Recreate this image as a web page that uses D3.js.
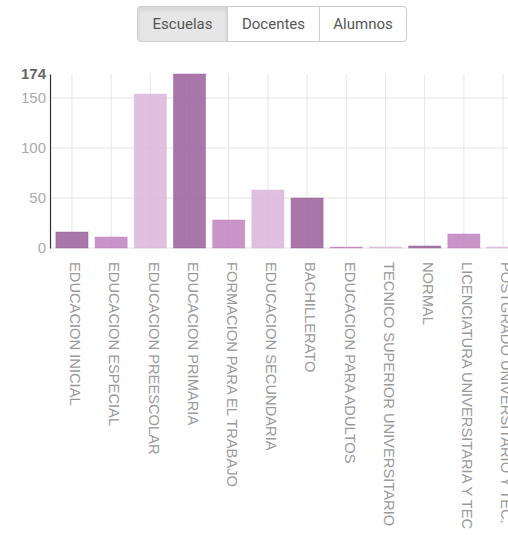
<!DOCTYPE html>
<html>
<head>
<meta charset="utf-8">
<script src="https://cdn.jsdelivr.net/npm/d3@7"></script>
<style>
  body { margin: 0; background: #fff; overflow: hidden; }
  #wrap { position: relative; width: 508px; height: 535px; }
  .btn-group { position: absolute; left: 137px; top: 6px; display: flex; }
  .btn-group button {
    font-family: Roboto, sans-serif; font-size: 15px; color: #555;
    background: #fff; border: 1px solid #ccc; height: 36px; padding: 0;
    margin-left: -1px; cursor: pointer;
  }
  .btn-group button:first-child { border-radius: 4px 0 0 4px; margin-left: 0; }
  .btn-group button:last-child { border-radius: 0 4px 4px 0; }
  .btn-group button.active { background: #e6e6e6; box-shadow: inset 0 3px 5px rgba(0,0,0,0.08); }
  svg { position: absolute; left: 0; top: 0; }
</style>
</head>
<body>
<div id="wrap">
  <div class="btn-group" id="buttons"></div>
</div>
<script>
// data
const modes = ["Escuelas", "Docentes", "Alumnos"]
const modeWidths = [91, 93, 88]
const categories = ["EDUCACION INICIAL", "EDUCACION ESPECIAL", "EDUCACION PREESCOLAR", "EDUCACION PRIMARIA",
  "FORMACION PARA EL TRABAJO", "EDUCACION SECUNDARIA", "BACHILLERATO", "EDUCACION PARA ADULTOS",
  "TECNICO SUPERIOR UNIVERSITARIO", "NORMAL", "LICENCIATURA UNIVERSITARIA Y TEC", "POSTGRADO UNIVERSITARIO Y TEC."]
const escuelas = [16, 11, 154, 174, 28, 58, 50, 1, 1, 2, 14, 1]
const yTicks = [0, 50, 100, 150, 174]
const palette = ["#995e99", "#bf81bd", "#d9b5d9"]

// buttons
d3.select("#buttons").selectAll("button")
  .data(modes)
  .join("button")
  .classed("active", (d, i) => i == 0)
  .style("width", (d, i) => modeWidths[i] + "px")
  .text(d => d)

// dimensions
const dims = {
  width: 508, height: 535,
  margin: { top: 74, left: 50 },
  plotHeight: 174
}

const svg = d3.select("#wrap").append("svg")
  .attr("width", dims.width)
  .attr("height", dims.height)

// scales
const xScale = d3.scaleBand()
  .domain(categories)
  .range([dims.margin.left, dims.margin.left + 475])
  .paddingInner(0.18)
  .paddingOuter(0.15)

const yScale = d3.scaleLinear()
  .domain([0, 174])
  .range([dims.margin.top + dims.plotHeight, dims.margin.top])

const colorScale = d3.scaleOrdinal()
  .domain(categories)
  .range(palette)

// grid
svg.append("g")
  .selectAll("line")
  .data(yTicks.filter(d => d != 174))
  .join("line")
  .attr("x1", dims.margin.left)
  .attr("x2", dims.width)
  .attr("y1", d => yScale(d))
  .attr("y2", d => yScale(d))
  .attr("stroke", "#e6e6e6")
  .attr("stroke-width", 1)

svg.append("g")
  .selectAll("line")
  .data(categories)
  .join("line")
  .attr("x1", d => xScale(d) + xScale.bandwidth() / 2)
  .attr("x2", d => xScale(d) + xScale.bandwidth() / 2)
  .attr("y1", yScale(174))
  .attr("y2", yScale(0))
  .attr("stroke", "#e6e6e6")
  .attr("stroke-width", 1)

// bars
svg.append("g")
  .selectAll("rect")
  .data(escuelas)
  .join("rect")
  .attr("x", (d, i) => xScale(categories[i]))
  .attr("width", xScale.bandwidth())
  .attr("y", d => yScale(d))
  .attr("height", d => yScale(0) - yScale(d))
  .attr("fill", (d, i) => colorScale(categories[i]))
  .attr("fill-opacity", 0.85)
  .attr("stroke", (d, i) => colorScale(categories[i]))
  .attr("stroke-opacity", 0.45)

// y axis
const yAxis = svg.append("g")
  .attr("transform", `translate(${dims.margin.left},0)`)
  .call(d3.axisLeft(yScale).tickValues(yTicks).tickSize(0).tickPadding(4))
yAxis.select(".domain").attr("stroke", "#333").attr("stroke-width", 1.2)
yAxis.selectAll("text")
  .attr("font-family", "Liberation Sans, Arial, sans-serif")
  .attr("font-size", 15)
  .attr("fill", d => d == 174 ? "#666" : "#aaa")
  .attr("font-weight", d => d == 174 ? "bold" : "normal")

// x labels
svg.append("g")
  .selectAll("text")
  .data(categories)
  .join("text")
  .attr("transform", d => `translate(${xScale(d) + xScale.bandwidth() / 2 + 3.5},262) rotate(90)`)
  .attr("dy", "0.35em")
  .attr("font-family", "Liberation Sans, Arial, sans-serif")
  .attr("font-size", 14.7)
  .attr("fill", "#999")
  .text(d => d)
</script>
</body>
</html>
